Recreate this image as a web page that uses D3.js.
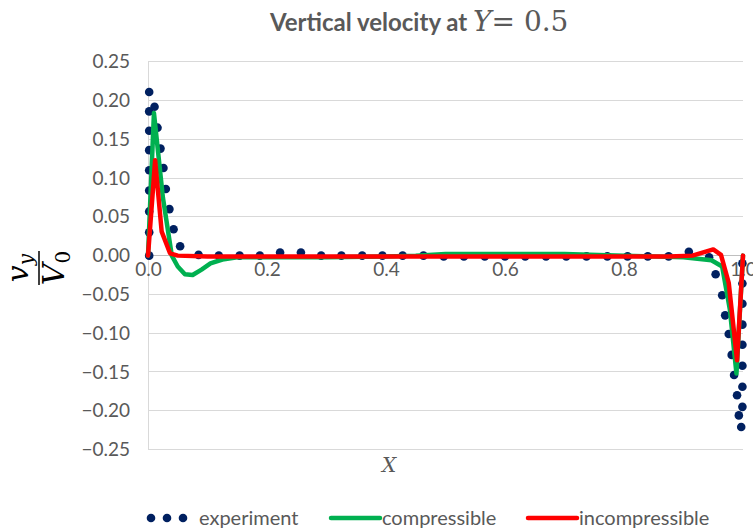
<!DOCTYPE html>
<html>
<head>
<meta charset="utf-8">
<script src="https://cdn.jsdelivr.net/npm/d3@7"></script>
<style>
  html, body { margin: 0; padding: 0; background: #fff; }
  svg { display: block; }
</style>
</head>
<body>
<svg id="chart" width="753" height="528"></svg>
<script>
// ---------------- data ----------------
const yTicks = [0.25, 0.20, 0.15, 0.10, 0.05, 0.00, -0.05, -0.10, -0.15, -0.20, -0.25];
const xTicks = [0.0, 0.2, 0.4, 0.6, 0.8, 1.0];

// experiment (scatter)
const expX = [
  0.002, 0.002, 0.002, 0.002, 0.002, 0.002, 0.002, 0.002, 0.002,
  0.011, 0.016, 0.021, 0.026, 0.030, 0.036, 0.043, 0.054,
  0.085, 0.119, 0.154, 0.188, 0.222, 0.257, 0.291, 0.325, 0.360, 0.394, 0.428, 0.463,
  0.497, 0.531, 0.566, 0.600, 0.634, 0.669, 0.703, 0.737, 0.772, 0.806, 0.840, 0.875,
  0.909, 0.943,
  0.954, 0.965, 0.970, 0.976, 0.981, 0.985, 0.990, 0.993, 0.997,
  0.999, 0.999, 0.999, 0.999, 0.999, 0.999, 0.999, 0.999
];
const expY = [
  0.211, 0.186, 0.161, 0.136, 0.110, 0.084, 0.057, 0.030, 0.000,
  0.192, 0.165, 0.138, 0.113, 0.086, 0.060, 0.034, 0.012,
  0.001, 0.000, 0.000, 0.000, 0.004, 0.004, 0.000, 0.000, 0.000, 0.000, 0.000, 0.000,
  -0.001, -0.001, -0.001, -0.001, -0.001, -0.001, -0.001, -0.001, -0.001, -0.001, -0.001, -0.001,
  0.005, -0.002,
  -0.024, -0.051, -0.077, -0.101, -0.128, -0.154, -0.180, -0.206, -0.221,
  -0.010, -0.036, -0.062, -0.089, -0.115, -0.142, -0.169, -0.195
];

// compressible (green line)
const compX = [0, 0.010, 0.025, 0.040, 0.050, 0.062, 0.075, 0.090, 0.105, 0.125, 0.150, 0.200, 0.300,
               0.400, 0.450, 0.500, 0.600, 0.700, 0.800, 0.900, 0.947, 0.965, 0.978, 0.989, 1.0];
const compY = [0, 0.184, 0.075, 0.000, -0.014, -0.024, -0.025, -0.018, -0.010, -0.005, -0.002, -0.002, -0.002,
               -0.001, 0.000, 0.002, 0.002, 0.002, 0.000, -0.002, -0.006, -0.014, -0.070, -0.152, 0.0];

// incompressible (red line)
const incX = [0, 0.012, 0.023, 0.037, 0.050, 0.100, 0.200, 0.300, 0.400, 0.500, 0.600, 0.700, 0.800,
              0.875, 0.915, 0.950, 0.963, 0.976, 0.990, 1.0];
const incY = [0, 0.123, 0.031, 0.003, 0.000, -0.001, -0.001, -0.001, -0.001, -0.001, -0.001, -0.001, -0.001,
              -0.001, 0.000, 0.008, 0.001, -0.035, -0.135, 0.0];

// ---------------- drawing ----------------
const svg = d3.select("#chart");
const gray = "#595959";
const sansFont = "Lato, 'Open Sans', sans-serif";
const serifFont = "'DejaVu Serif', 'Liberation Serif', serif";

const x = d3.scaleLinear().domain([0, 1]).range([148, 743]);
const y = d3.scaleLinear().domain([-0.25, 0.25]).range([449.5, 61.75]);

// gridlines
svg.append("g")
  .selectAll("line")
  .data(yTicks)
  .join("line")
  .attr("x1", x(0)).attr("x2", x(1))
  .attr("y1", d => y(d)).attr("y2", d => y(d))
  .attr("stroke", "#D9D9D9")
  .attr("stroke-width", 1)
  .attr("shape-rendering", "crispEdges");

// vertical axis line
svg.append("line")
  .attr("x1", x(0)).attr("x2", x(0))
  .attr("y1", y(0.25)).attr("y2", y(-0.25))
  .attr("stroke", "#D9D9D9")
  .attr("shape-rendering", "crispEdges");

// zero axis line
svg.append("line")
  .attr("x1", x(0)).attr("x2", x(1))
  .attr("y1", y(0)).attr("y2", y(0))
  .attr("stroke", "#BFBFBF")
  .attr("shape-rendering", "crispEdges");

// y tick labels
const yAxis = d3.axisLeft(y).tickValues(yTicks).tickFormat(d3.format(".2f")).tickSize(0).tickPadding(18);
const gy = svg.append("g").attr("transform", `translate(${x(0)},0)`).call(yAxis);
gy.select(".domain").remove();
gy.selectAll("text")
  .attr("fill", gray)
  .style("font-family", sansFont)
  .style("font-size", "19px");

// x tick labels (at the zero line)
const xAxis = d3.axisBottom(x).tickValues(xTicks).tickFormat(d3.format(".1f")).tickSize(0).tickPadding(7);
const gx = svg.append("g").attr("transform", `translate(0,${y(0)})`).call(xAxis);
gx.select(".domain").remove();
gx.selectAll("text")
  .attr("fill", gray)
  .style("font-family", sansFont)
  .style("font-size", "19px");

// series
const line = d3.line().x(d => x(d[0])).y(d => y(d[1]));
const compData = compX.map((v, i) => [v, compY[i]]);
const incData = incX.map((v, i) => [v, incY[i]]);
const expData = expX.map((v, i) => [v, expY[i]]);

svg.append("g")
  .selectAll("circle")
  .data(expData)
  .join("circle")
  .attr("cx", d => x(d[0]))
  .attr("cy", d => y(d[1]))
  .attr("r", 4.3)
  .attr("fill", "#002060");

svg.append("path")
  .datum(compData)
  .attr("d", line)
  .attr("fill", "none")
  .attr("stroke", "#00B050")
  .attr("stroke-width", 4.5)
  .attr("stroke-linejoin", "round")
  .attr("stroke-linecap", "round");

svg.append("path")
  .datum(incData)
  .attr("d", line)
  .attr("fill", "none")
  .attr("stroke", "#FF0000")
  .attr("stroke-width", 4.5)
  .attr("stroke-linejoin", "round")
  .attr("stroke-linecap", "round");

// title
const title = svg.append("text")
  .attr("x", 270).attr("y", 31)
  .attr("fill", gray)
  .style("font-family", sansFont)
  .style("font-size", "24px");
title.append("tspan").style("font-weight", "bold").text("Vertical velocity at ");
title.append("tspan").style("font-family", serifFont).style("font-style", "italic").style("font-size", "28px").text("Y");
title.append("tspan").style("font-family", serifFont).style("font-size", "28px").text("= 0.5");

// x axis title
svg.append("text")
  .attr("x", 389).attr("y", 472)
  .attr("text-anchor", "middle")
  .attr("fill", gray)
  .style("font-family", serifFont)
  .style("font-style", "italic")
  .style("font-size", "20px")
  .text("X");

// y axis title (fraction v_y / V_0, rotated)
const yt = svg.append("g").attr("transform", "translate(39,268) rotate(-90)");
const num = yt.append("text")
  .attr("x", 0).attr("y", -11)
  .attr("text-anchor", "middle")
  .attr("fill", "#000")
  .style("font-family", serifFont)
  .style("font-size", "30px");
num.append("tspan").style("font-style", "italic").text("v");
num.append("tspan").attr("dy", 5).style("font-style", "italic").style("font-size", "20px").text("y");
yt.append("line")
  .attr("x1", -17).attr("x2", 17)
  .attr("y1", 0).attr("y2", 0)
  .attr("stroke", "#000").attr("stroke-width", 1.5);
const den = yt.append("text")
  .attr("x", 0).attr("y", 25)
  .attr("text-anchor", "middle")
  .attr("fill", "#000")
  .style("font-family", serifFont)
  .style("font-size", "30px");
den.append("tspan").style("font-style", "italic").text("V");
den.append("tspan").attr("dy", 6).style("font-size", "20px").text("0");

// legend
const legY = 518;
const legFont = "20px";
const legend = svg.append("g");
legend.selectAll("circle")
  .data([151, 167, 183])
  .join("circle")
  .attr("cx", d => d).attr("cy", legY).attr("r", 4.3)
  .attr("fill", "#002060");
legend.append("text").attr("x", 199).attr("y", legY + 7)
  .attr("fill", gray).style("font-family", sansFont).style("font-size", legFont).text("experiment");
legend.append("line").attr("x1", 331).attr("x2", 380).attr("y1", legY).attr("y2", legY)
  .attr("stroke", "#00B050").attr("stroke-width", 4.5).attr("stroke-linecap", "round");
legend.append("text").attr("x", 382).attr("y", legY + 7)
  .attr("fill", gray).style("font-family", sansFont).style("font-size", legFont).text("compressible");
legend.append("line").attr("x1", 528).attr("x2", 577).attr("y1", legY).attr("y2", legY)
  .attr("stroke", "#FF0000").attr("stroke-width", 4.5).attr("stroke-linecap", "round");
legend.append("text").attr("x", 579).attr("y", legY + 7)
  .attr("fill", gray).style("font-family", sansFont).style("font-size", legFont).text("incompressible");
</script>
</body>
</html>
